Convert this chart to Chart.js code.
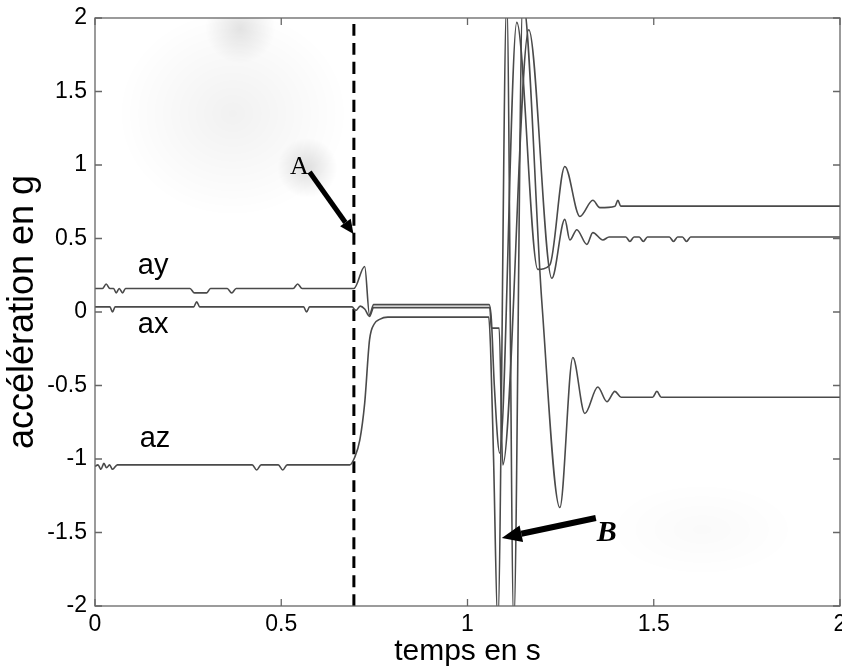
<!DOCTYPE html>
<html>
<head>
<meta charset="utf-8">
<script src="https://cdn.jsdelivr.net/npm/chart.js@4.4.0/dist/chart.umd.min.js"></script>
<style>
  body { margin: 0; background: #fff; }
  canvas { display: block; }
</style>
</head>
<body>
<canvas id="chart" width="842" height="668"></canvas>
<script>
// time axis (s) and accelerations (g)
var ayT = [0, 0.02, 0.030, 0.040, 0.050, 0.057, 0.065, 0.074, 0.082, 0.255, 0.267, 0.283, 0.300, 0.310, 0.355, 0.367, 0.379,
  0.532, 0.544, 0.556, 0.695, 0.724, 0.737, 0.748, 1.058, 1.064, 1.072, 1.0866, 1.1323, 1.1887, 1.2210, 1.2613, 1.3016,
  1.3365, 1.3553, 1.3960, 1.4037, 1.4114, 2.0];
var ayV = [0.16, 0.16, 0.19, 0.16, 0.16, 0.13, 0.16, 0.13, 0.16, 0.16, 0.13, 0.13, 0.13, 0.16, 0.16, 0.13, 0.16,
  0.16, 0.19, 0.16, 0.16, 0.31, -0.02, 0.05, 0.05, -0.05, -0.5, -0.96, 1.97, 0.29, 0.32, 0.99, 0.65,
  0.76, 0.71, 0.72, 0.76, 0.72, 0.72];

var axT = [0, 0.040, 0.047, 0.054, 0.265, 0.273, 0.281, 0.560, 0.568, 0.576, 0.690, 0.700, 0.712, 0.724, 0.737, 0.748,
  1.060, 1.064, 1.085, 1.0947, 1.1645, 1.2264, 1.2613, 1.2747, 1.2935, 1.3204, 1.3365, 1.3634, 1.380,
  1.425, 1.436, 1.447, 1.461, 1.472, 1.483, 1.542, 1.553, 1.564, 1.577, 1.588, 1.599, 2.0];
var axV = [0.035, 0.035, 0.0, 0.035, 0.035, 0.07, 0.035, 0.035, 0.0, 0.035, 0.035, 0.01, 0.04, 0.02, -0.03, 0.03,
  0.03, -0.11, -0.11, -1.04, 1.92, 0.23, 0.63, 0.49, 0.56, 0.46, 0.54, 0.49, 0.51,
  0.51, 0.48, 0.51, 0.51, 0.48, 0.51, 0.51, 0.48, 0.51, 0.51, 0.48, 0.51, 0.51];

var azT = [0, 0.008, 0.016, 0.024, 0.031, 0.039, 0.047, 0.060, 0.422, 0.434, 0.446, 0.492, 0.504, 0.516,
  0.684, 0.697, 0.711, 0.724, 0.737, 0.750, 0.764, 0.786, 1.057, 1.062, 1.070, 1.0813, 1.1054, 1.1242, 1.1484,
  1.1995, 1.2479, 1.2828, 1.3150, 1.3499, 1.3741, 1.3956, 1.4124, 1.497, 1.5084, 1.520, 2.0];
var azV = [-1.05, -1.04, -1.07, -1.03, -1.06, -1.04, -1.07, -1.04, -1.04, -1.075, -1.04, -1.04, -1.075, -1.04,
  -1.04, -0.99, -0.87, -0.62, -0.19, -0.08, -0.05, -0.035, -0.035, -0.25, -1.0, -2.12, 2.12, -2.12, 2.12,
  0.07, -1.33, -0.31, -0.69, -0.51, -0.61, -0.54, -0.58, -0.58, -0.54, -0.58, -0.58];

var markT = 0.695;          // instant A (dashed line)
var xTicks = [0, 0.5, 1, 1.5, 2];
var yTicks = [-2, -1.5, -1, -0.5, 0, 0.5, 1, 1.5, 2];

function pts(t, v) {
  return t.map(function (x, i) { return { x: x, y: v[i] }; });
}

var lineColor = '#4a4a4a';
var sans = '"Liberation Sans", Arial, sans-serif';

// draws everything that is not a data series: frame, ticks, titles, notes
var overlay = {
  id: 'overlay',
  beforeDatasetsDraw: function (chart) {
    var ctx = chart.ctx, xs = chart.scales.x, ys = chart.scales.y, a = chart.chartArea;
    ctx.save();
    ctx.beginPath();
    ctx.rect(a.left, a.top, a.right - a.left, a.bottom - a.top);
    ctx.clip();
    function blob(x, y, r, alpha, sy) {
      var cx = xs.getPixelForValue(x), cy = ys.getPixelForValue(y);
      ctx.save();
      ctx.translate(cx, cy);
      ctx.scale(1, sy);
      var g = ctx.createRadialGradient(0, 0, 0, 0, 0, r);
      g.addColorStop(0, 'rgba(0,0,0,' + alpha + ')');
      g.addColorStop(1, 'rgba(0,0,0,0)');
      ctx.fillStyle = g;
      ctx.beginPath();
      ctx.arc(0, 0, r, 0, Math.PI * 2);
      ctx.fill();
      ctx.restore();
    }
    blob(0.37, 1.35, 115, 0.055, 0.9);
    blob(0.39, 1.93, 35, 0.10, 1);
    blob(0.57, 0.98, 30, 0.12, 1);
    blob(1.63, -1.48, 95, 0.02, 0.5);
    ctx.restore();
  },
  afterDraw: function (chart) {
    var ctx = chart.ctx, xs = chart.scales.x, ys = chart.scales.y, a = chart.chartArea;
    ctx.save();
    // frame + inward ticks on all four sides
    ctx.strokeStyle = '#666';
    ctx.lineWidth = 1.3;
    ctx.strokeRect(a.left, a.top, a.right - a.left, a.bottom - a.top);
    ctx.beginPath();
    xTicks.forEach(function (t) {
      var p = xs.getPixelForValue(t);
      ctx.moveTo(p, a.bottom); ctx.lineTo(p, a.bottom - 7);
      ctx.moveTo(p, a.top); ctx.lineTo(p, a.top + 7);
    });
    yTicks.forEach(function (t) {
      var p = ys.getPixelForValue(t);
      ctx.moveTo(a.left, p); ctx.lineTo(a.left + 7, p);
      ctx.moveTo(a.right, p); ctx.lineTo(a.right - 7, p);
    });
    ctx.stroke();

    ctx.fillStyle = '#000';
    // axis titles
    ctx.textAlign = 'center';
    ctx.textBaseline = 'alphabetic';
    ctx.font = '30px ' + sans;
    ctx.fillText('temps en s', (a.left + a.right) / 2, 660);
    ctx.save();
    ctx.translate(33, (a.top + a.bottom) / 2);
    ctx.rotate(-Math.PI / 2);
    ctx.font = '36px ' + sans;
    ctx.fillText('accélération en g', 0, 0);
    ctx.restore();

    // series names
    ctx.textAlign = 'left';
    ctx.font = '29px ' + sans;
    ctx.fillText('ay', xs.getPixelForValue(0.115), ys.getPixelForValue(0.26));
    ctx.fillText('ax', xs.getPixelForValue(0.115), ys.getPixelForValue(-0.14));
    ctx.fillText('az', xs.getPixelForValue(0.12), ys.getPixelForValue(-0.92));

    // arrows
    function arrow(t1, v1, t2, v2, w, hl, hw) {
      var x1 = xs.getPixelForValue(t1), y1 = ys.getPixelForValue(v1);
      var x2 = xs.getPixelForValue(t2), y2 = ys.getPixelForValue(v2);
      var ang = Math.atan2(y2 - y1, x2 - x1);
      var bx = x2 - hl * Math.cos(ang), by = y2 - hl * Math.sin(ang);
      ctx.strokeStyle = '#000';
      ctx.lineWidth = w;
      ctx.beginPath(); ctx.moveTo(x1, y1); ctx.lineTo(bx, by); ctx.stroke();
      ctx.beginPath();
      ctx.moveTo(x2, y2);
      ctx.lineTo(bx + hw / 2 * Math.sin(ang), by - hw / 2 * Math.cos(ang));
      ctx.lineTo(bx - hw / 2 * Math.sin(ang), by + hw / 2 * Math.cos(ang));
      ctx.closePath();
      ctx.fill();
    }
    arrow(0.576, 0.952, 0.694, 0.531, 5, 14, 13);
    arrow(1.3445, -1.401, 1.092, -1.537, 6, 20, 17);

    ctx.textAlign = 'center';
    ctx.font = '26px "Liberation Serif", "Times New Roman", serif';
    ctx.fillText('A', xs.getPixelForValue(0.549), ys.getPixelForValue(0.94));
    ctx.font = 'italic bold 30px "Liberation Serif", "Times New Roman", serif';
    ctx.fillText('B', xs.getPixelForValue(1.374), ys.getPixelForValue(-1.56));
    ctx.restore();
  }
};

function tickText(v) {
  return String(Math.round(v * 100) / 100);
}

var ctx = document.getElementById('chart');
var chart = new Chart(ctx, {
  type: 'line',
  data: {
    datasets: [
      { label: 'ay', data: pts(ayT, ayV) },
      { label: 'ax', data: pts(axT, axV) },
      { label: 'az', data: pts(azT, azV) },
      {
        label: 'A', data: pts([markT, markT], [-2, 2]),
        borderColor: '#000', borderWidth: 3, borderDash: [12, 7]
      }
    ]
  },
  options: {
    responsive: false,
    animation: false,
    layout: { padding: { left: 0, right: 2, top: 18, bottom: 0 } },
    datasets: {
      line: {
        borderColor: lineColor,
        borderWidth: 1.6,
        pointRadius: 0,
        fill: false,
        cubicInterpolationMode: 'monotone'
      }
    },
    plugins: {
      legend: { display: false },
      tooltip: { enabled: false }
    },
    scales: {
      x: {
        type: 'linear', min: 0, max: 2,
        grid: { display: false, drawTicks: false },
        border: { display: false },
        ticks: {
          stepSize: 0.5, padding: 5, color: '#000', callback: tickText,
          font: { family: sans, size: 23 }
        },
        afterFit: function (s) { s.height = 62; s.paddingLeft = 0; s.paddingRight = 0; }
      },
      y: {
        min: -2, max: 2,
        grid: { display: false, drawTicks: false },
        border: { display: false },
        ticks: {
          stepSize: 0.5, padding: 8, color: '#000', callback: tickText,
          font: { family: sans, size: 23 }
        },
        afterFit: function (s) { s.width = 95; s.paddingTop = 0; s.paddingBottom = 0; }
      }
    }
  },
  plugins: [overlay]
});
</script>
</body>
</html>
